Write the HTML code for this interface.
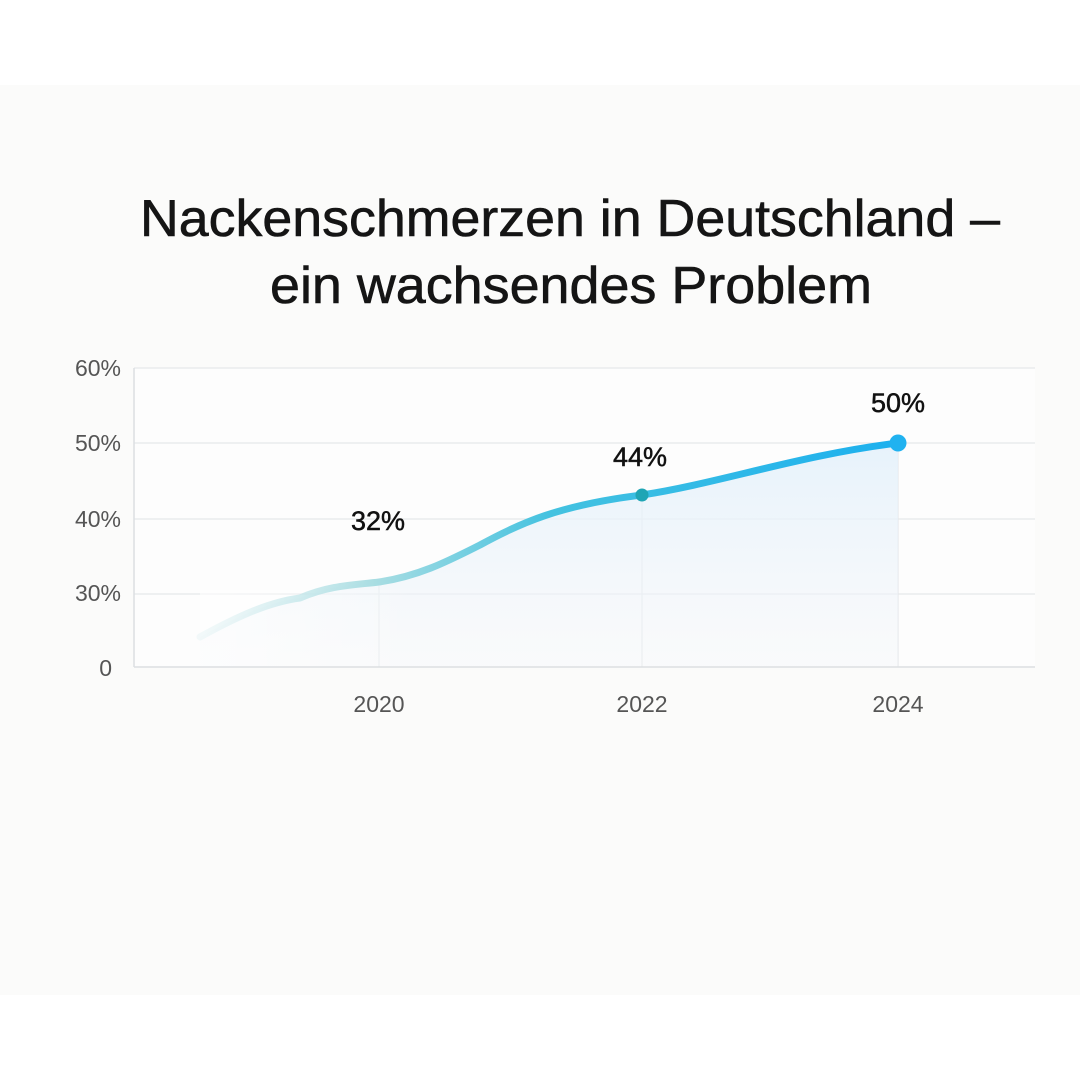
<!DOCTYPE html>
<html><head><meta charset="utf-8"><style>
body{margin:0;width:1080px;height:1080px;background:#fff;overflow:hidden;font-family:"Liberation Sans",sans-serif}
</style></head><body>
<svg width="1080" height="1080" xmlns="http://www.w3.org/2000/svg">
<defs>
<linearGradient id="lg" x1="200" y1="0" x2="900" y2="0" gradientUnits="userSpaceOnUse">
<stop offset="0" stop-color="#d8eef0" stop-opacity="0.3"/>
<stop offset="0.25" stop-color="#a8dde2"/>
<stop offset="0.5" stop-color="#44c2e0"/>
<stop offset="1" stop-color="#1cb0ee"/>
</linearGradient>
<linearGradient id="fg" x1="0" y1="443" x2="0" y2="667" gradientUnits="userSpaceOnUse">
<stop offset="0" stop-color="#e4f1fb" stop-opacity="0.9"/>
<stop offset="1" stop-color="#f4f6f9" stop-opacity="0.4"/>
</linearGradient>
<linearGradient id="fx" x1="200" y1="0" x2="420" y2="0" gradientUnits="userSpaceOnUse">
<stop offset="0" stop-color="#fff" stop-opacity="1"/>
<stop offset="1" stop-color="#fff" stop-opacity="0"/>
</linearGradient>
</defs>
<rect x="0" y="85" width="1080" height="910" fill="#fbfbfa"/>
<text x="140" y="236" textLength="860" lengthAdjust="spacingAndGlyphs" font-size="52" fill="#151515" stroke="#151515" stroke-width="0.6">Nackenschmerzen in Deutschland –</text>
<text x="270" y="303" textLength="602" lengthAdjust="spacingAndGlyphs" font-size="52" fill="#151515" stroke="#151515" stroke-width="0.6">ein wachsendes Problem</text>
<rect x="134" y="368" width="901" height="299" fill="#fdfdfd"/>
<g stroke="#e6e8ea" stroke-width="1.2">
<line x1="134" y1="368" x2="1035" y2="368"/>
<line x1="134" y1="443" x2="1035" y2="443"/>
<line x1="134" y1="519" x2="1035" y2="519"/>
<line x1="134" y1="594" x2="1035" y2="594"/>
<line x1="379" y1="582" x2="379" y2="667"/>
<line x1="642" y1="495" x2="642" y2="667"/>
<line x1="898" y1="443" x2="898" y2="667"/>
</g>
<line x1="134" y1="368" x2="134" y2="667" stroke="#dcdfe2" stroke-width="1.5"/>
<line x1="134" y1="667" x2="1035" y2="667" stroke="#dcdfe2" stroke-width="1.5"/>
<path d="M200 637 C240 615,270 602,300 598 C330 585,355 585,379 582 C420 576,450 560,480 545 C520 523,560 505,642 495 C720 483,800 455,898 443 L898 666 L200 666 Z" fill="url(#fg)"/>
<rect x="200" y="590" width="220" height="76" fill="url(#fx)" opacity="0.6"/>
<path d="M200 637 C240 615,270 602,300 598 C330 585,355 585,379 582 C420 576,450 560,480 545 C520 523,560 505,642 495 C720 483,800 455,898 443" fill="none" stroke="url(#lg)" stroke-width="7" stroke-linecap="round"/>
<circle cx="642" cy="495" r="6.5" fill="#1fa5b5"/>
<circle cx="898" cy="443" r="8.5" fill="#20b2f0"/>
<g font-size="23" fill="#555" text-anchor="end">
<text x="121" y="376">60%</text>
<text x="121" y="451">50%</text>
<text x="121" y="527">40%</text>
<text x="121" y="601">30%</text>
<text x="112" y="676">0</text>
</g>
<g font-size="23" fill="#555" text-anchor="middle">
<text x="379" y="712">2020</text>
<text x="642" y="712">2022</text>
<text x="898" y="712">2024</text>
</g>
<g font-size="27" fill="#111" text-anchor="middle" stroke="#111" stroke-width="0.5">
<text x="378" y="530">32%</text>
<text x="640" y="466">44%</text>
<text x="898" y="412">50%</text>
</g>
</svg>
</body></html>
